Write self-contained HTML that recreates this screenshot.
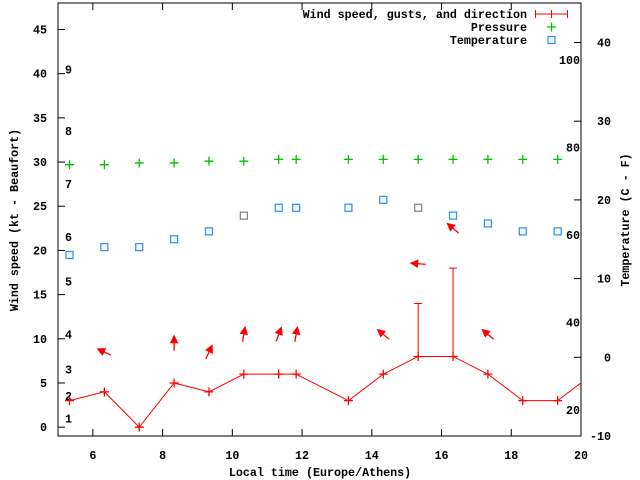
<!DOCTYPE html>
<html><head><meta charset="utf-8"><style>
html,body{margin:0;padding:0;background:#fff}
svg{display:block}
text{font-family:"Liberation Mono",monospace;font-weight:bold;font-size:11.7px;fill:#000}
</style></head><body>
<svg id="chart" width="640" height="480" viewBox="0 0 640 480" xmlns="http://www.w3.org/2000/svg">
<g id="axes"></g>
<g id="marks"></g>
<g id="legend"></g>
</svg>
<script>
const times=[5.33,6.33,7.33,8.33,9.33,10.33,11.33,11.83,13.33,14.33,15.33,16.33,17.33,18.33,19.33,20.33];
const windSpeed=[3,4,0,5,4,6,6,6,3,6,8,8,6,3,3,6];
const gusts=[null,null,null,null,null,null,null,null,null,null,14,18,null,null,null,null];
const windDir=[null,155,null,90,65,80,70,80,null,140,175,140,140,null,null,null];
const pressure=[29.7,29.7,29.9,29.9,30.1,30.1,30.3,30.3,30.3,30.3,30.3,30.3,30.3,30.3,30.3];
const tempC=[13,14,14,15,16,18,19,19,19,20,19,18,17,16,16];
const tempGray=[0,0,0,0,0,1,0,0,0,0,1,0,0,0,0];
const xTicks=[6,8,10,12,14,16,18,20];
const yTicks=[0,5,10,15,20,25,30,35,40,45];
const cTicks=[-10,0,10,20,30,40];
const fLabels=[20,40,60,80,100];
const beaufort=[1,2,3,4,5,6,7,8,9];
const beaufortKt=[1,3.5,6.5,10.5,16.5,21.5,27.5,33.5,40.5];

const L=58,R=581,T=3,B=436;
const X=t=>L+(t-5)*(R-L)/15;
const Y=v=>B-(v+1)*(B-T)/49;
const YC=c=>357.3-7.87*c;
const NS='http://www.w3.org/2000/svg';
function mk(p,tag,attrs,txt){const e=document.createElementNS(NS,tag);for(const k in attrs)e.setAttribute(k,attrs[k]);if(txt!==undefined)e.textContent=txt;p.appendChild(e);return e;}
const ax=document.getElementById('axes'),mg=document.getElementById('marks'),lg=document.getElementById('legend');

let e=mk(ax,'rect',{x:L,y:T,width:R-L,height:B-T,fill:'none',stroke:'#000','stroke-width':1});


yTicks.forEach(v=>{
 const y=Y(v);
 let t=mk(ax,'line',{x1:L,y1:y,x2:L+7,y2:y,stroke:'#000'});
 
 
 let l=mk(ax,'text',{x:47,y:y+4,'text-anchor':'end'},String(v));
 
 
});
xTicks.forEach(v=>{
 const x=X(v);
 let t=mk(ax,'line',{x1:x,y1:B,x2:x,y2:B-7,stroke:'#000'});
 
 
 let t2=mk(ax,'line',{x1:x,y1:T,x2:x,y2:T+7,stroke:'#000'});
 
 
 let l=mk(ax,'text',{x:x,y:459,'text-anchor':'middle'},String(v));
 
 
});
cTicks.forEach(c=>{
 const y=YC(c);
 let t=mk(ax,'line',{x1:R,y1:y,x2:R-7,y2:y,stroke:'#000'});
 
 
 let l=mk(ax,'text',{x:611,y:y+4,'text-anchor':'end'},String(c));
 
 
});
fLabels.forEach(f=>{
 const y=YC((f-32)*5/9);
 let l=mk(ax,'text',{x:580,y:y+4,'text-anchor':'end'},String(f));
 
 
});
beaufort.forEach((b,i)=>{
 let l=mk(ax,'text',{x:65,y:Y(beaufortKt[i])+4},String(b));
 
 
});
e=mk(ax,'text',{x:0,y:0,'text-anchor':'middle',transform:'translate(18,220) rotate(-90)'},'Wind speed (kt - Beaufort)');


e=mk(ax,'text',{x:0,y:0,'text-anchor':'middle',transform:'translate(629,220) rotate(-90)'},'Temperature (C - F)');


e=mk(ax,'text',{x:320,y:476,'text-anchor':'middle'},'Local time (Europe/Athens)');



// clip
const defs=mk(mg,'defs',{});
const cp=mk(defs,'clipPath',{id:'clip'});mk(cp,'rect',{x:L,y:T,width:R-L,height:B-T});
const g=mk(mg,'g',{'clip-path':'url(#clip)'});

function plus(p,x,y,col,s){mk(p,'path',{d:`M${x-s},${y}H${x+s}M${x},${y-s}V${y+s}`,stroke:col,'stroke-width':1.3,fill:'none'});}

// pressure
pressure.forEach((v,i)=>{
 const pg=mk(g,'g',{});
 
 
 plus(pg,X(times[i]),Y(v),'#00c000',4.5);
});
// temperature
tempC.forEach((c,i)=>{
 let r=mk(g,'rect',{x:X(times[i])-3.5,y:YC(c)-3.5,width:7,height:7,fill:'none',stroke:tempGray[i]?'#808080':'#1e90ff','stroke-width':1.2});
 
 
});
// wind line
let d='';windSpeed.forEach((v,i)=>{d+=(i?'L':'M')+X(times[i])+','+Y(v);});
e=mk(g,'path',{d:d,stroke:'#ff0000',fill:'none','stroke-width':1});


windSpeed.forEach((v,i)=>{
 const pg=mk(g,'g',{});
 
 
 plus(pg,X(times[i]),Y(v),'#ff0000',4.5);
 if(gusts[i]!==null){
  const x=X(times[i]);
  let eb=mk(g,'path',{d:`M${x},${Y(v)}V${Y(gusts[i])}M${x-4},${Y(gusts[i])}H${x+4}`,stroke:'#ff0000',fill:'none'});
  
  
 }
 if(windDir[i]!==null){
  const top=Math.max(v,gusts[i]||0)+4.5;
  const cx=X(times[i]),cy=Y(top),a=windDir[i]*Math.PI/180,len=15;
  const dx=Math.cos(a),dy=-Math.sin(a);
  const hx=cx+dx*len/2,hy=cy+dy*len/2,tx=cx-dx*len/2,ty=cy-dy*len/2;
  const px=-dy,py=dx,bx=hx-dx*7,by=hy-dy*7;
  const ag=mk(g,'g',{});
  
  
  mk(ag,'line',{x1:tx,y1:ty,x2:hx,y2:hy,stroke:'#ff0000','stroke-width':1.3});
  mk(ag,'path',{d:`M${hx},${hy}L${bx+px*3.5},${by+py*3.5}L${bx-px*3.5},${by-py*3.5}Z`,fill:'#ff0000',stroke:'#ff0000'});
 }
});

// legend
const leg=[['Wind speed, gusts, and direction',14],['Pressure',27],['Temperature',40]];
leg.forEach(([s,y],i)=>{
 let l=mk(lg,'text',{x:527,y:y+4,'text-anchor':'end'},s);
 
 
});
e=mk(lg,'path',{d:'M535.5,14H567.5M535.5,10V18M567.5,10V18M551.5,10V18',stroke:'#ff0000',fill:'none'});


const lp=mk(lg,'g',{});


plus(lp,551.5,27,'#00c000',4.5);
e=mk(lg,'rect',{x:548,y:36.5,width:7,height:7,fill:'none',stroke:'#1e90ff','stroke-width':1.2});


</script>
</body></html>
